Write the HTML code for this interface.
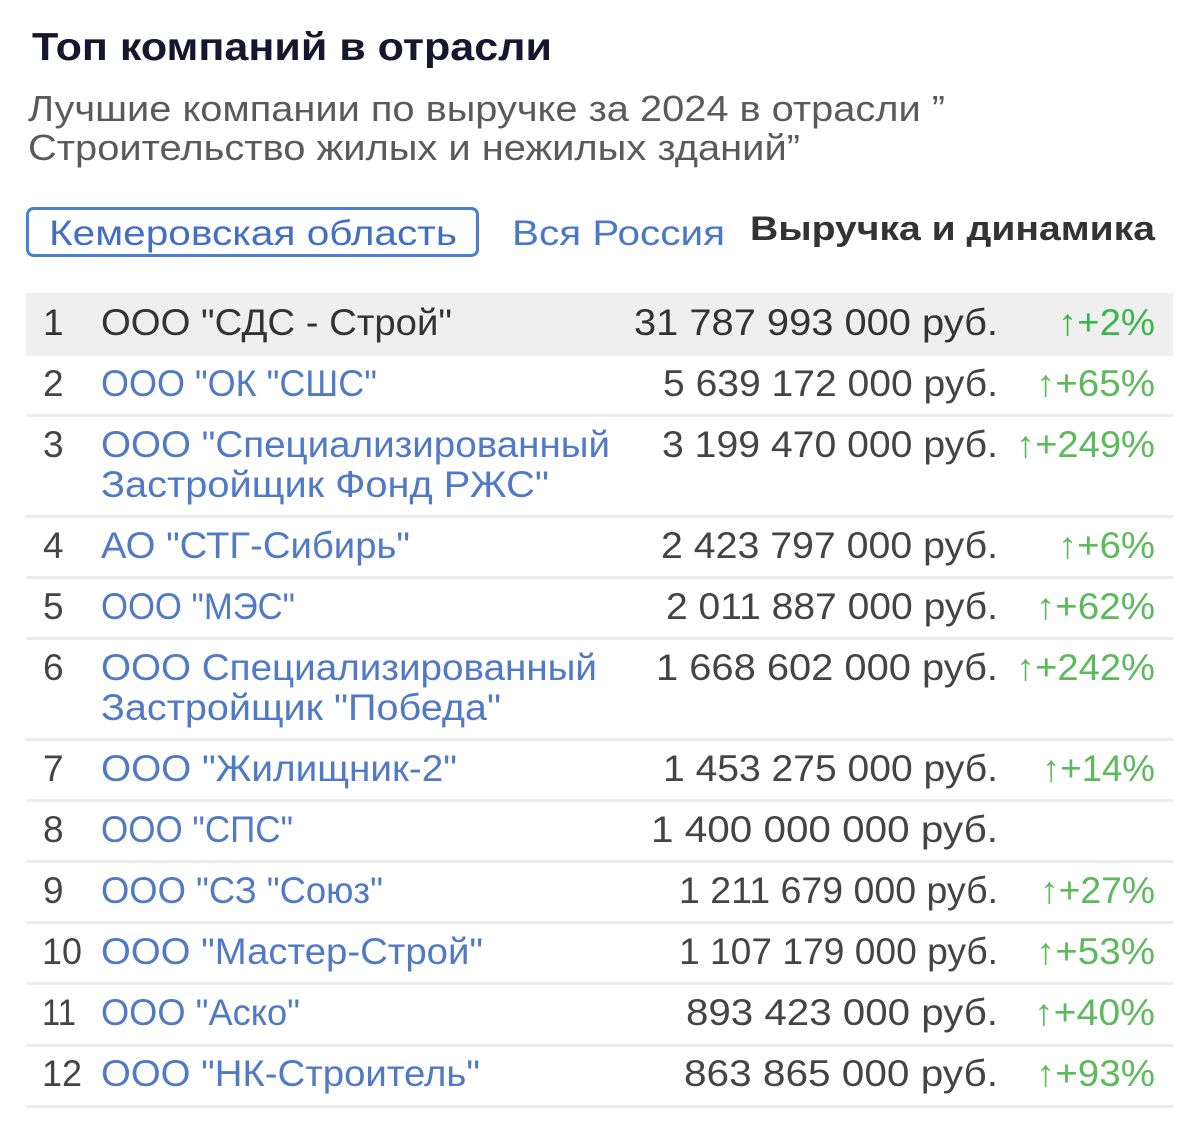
<!DOCTYPE html>
<html><head><meta charset="utf-8">
<style>
html,body{margin:0;padding:0;background:#fff;}
svg{display:block;}
text{font-family:"Liberation Sans","DejaVu Sans",sans-serif;}
.t{font-size:37px;}
.n{fill:#444;}
.l{fill:#5079c6;}
.g{fill:#5cba5c;}
</style></head>
<body>
<svg width="1200" height="1121" viewBox="0 0 1200 1121" xmlns="http://www.w3.org/2000/svg">
<rect width="1200" height="1121" fill="#fff"/>
<text x="32" y="60" font-size="39" font-weight="bold" fill="#16162e" textLength="520" lengthAdjust="spacingAndGlyphs">Топ компаний в отрасли</text>
<text x="28" y="121" font-size="36" fill="#5a5a5a" textLength="917" lengthAdjust="spacingAndGlyphs">Лучшие компании по выручке за 2024 в отрасли ”</text>
<text x="28" y="160" font-size="36" fill="#5a5a5a" textLength="772" lengthAdjust="spacingAndGlyphs">Строительство жилых и нежилых зданий”</text>

<rect x="27.5" y="208.5" width="450" height="47" rx="6" fill="none" stroke="#4b7fd6" stroke-width="3"/>
<text x="49" y="245" font-size="35" fill="#416fc2" textLength="408" lengthAdjust="spacingAndGlyphs">Кемеровская область</text>
<text x="512" y="245" font-size="35" fill="#4a78c8" textLength="213" lengthAdjust="spacingAndGlyphs">Вся Россия</text>
<text x="750" y="240" font-size="34" font-weight="bold" fill="#333" textLength="405" lengthAdjust="spacingAndGlyphs">Выручка и динамика</text>

<rect x="26" y="293" width="1147" height="63" fill="#efefef"/>
<g fill="#ececec">
<rect x="26" y="414" width="1147" height="3"/>
<rect x="26" y="515" width="1147" height="3"/>
<rect x="26" y="576" width="1147" height="3"/>
<rect x="26" y="637" width="1147" height="3"/>
<rect x="26" y="738" width="1147" height="3"/>
<rect x="26" y="799" width="1147" height="3"/>
<rect x="26" y="860" width="1147" height="3"/>
<rect x="26" y="921" width="1147" height="3"/>
<rect x="26" y="982" width="1147" height="3"/>
<rect x="26" y="1044" width="1147" height="3"/>
<rect x="26" y="1105" width="1147" height="3"/>
</g>

<g class="t">
<!-- row 1 -->
<text x="43" y="335" fill="#333">1</text>
<text x="101" y="335" fill="#333" textLength="351" lengthAdjust="spacingAndGlyphs">ООО "СДС - Строй"</text>
<text x="634" y="335" fill="#333" textLength="364" lengthAdjust="spacingAndGlyphs">31 787 993 000 руб.</text>
<text x="1058" y="335" fill="#3cb54a" textLength="97" lengthAdjust="spacingAndGlyphs">↑+2%</text>
<!-- row 2 -->
<text x="43" y="396" class="n">2</text>
<text x="101" y="396" class="l" textLength="276" lengthAdjust="spacingAndGlyphs">ООО "ОК "СШС"</text>
<text x="663" y="396" class="n" textLength="335" lengthAdjust="spacingAndGlyphs">5 639 172 000 руб.</text>
<text x="1036" y="396" class="g" textLength="119" lengthAdjust="spacingAndGlyphs">↑+65%</text>
<!-- row 3 -->
<text x="43" y="457" class="n">3</text>
<text x="101" y="457" class="l" textLength="509" lengthAdjust="spacingAndGlyphs">ООО "Специализированный</text>
<text x="101" y="497" class="l" textLength="448" lengthAdjust="spacingAndGlyphs">Застройщик Фонд РЖС"</text>
<text x="662" y="457" class="n" textLength="336" lengthAdjust="spacingAndGlyphs">3 199 470 000 руб.</text>
<text x="1016" y="457" class="g" textLength="139" lengthAdjust="spacingAndGlyphs">↑+249%</text>
<!-- row 4 -->
<text x="43" y="558" class="n">4</text>
<text x="101" y="558" class="l" textLength="309" lengthAdjust="spacingAndGlyphs">АО "СТГ-Сибирь"</text>
<text x="661" y="558" class="n" textLength="337" lengthAdjust="spacingAndGlyphs">2 423 797 000 руб.</text>
<text x="1058" y="558" class="g" textLength="97" lengthAdjust="spacingAndGlyphs">↑+6%</text>
<!-- row 5 -->
<text x="43" y="619" class="n">5</text>
<text x="101" y="619" class="l" textLength="194" lengthAdjust="spacingAndGlyphs">ООО "МЭС"</text>
<text x="666" y="619" class="n" textLength="332" lengthAdjust="spacingAndGlyphs">2 011 887 000 руб.</text>
<text x="1036" y="619" class="g" textLength="119" lengthAdjust="spacingAndGlyphs">↑+62%</text>
<!-- row 6 -->
<text x="43" y="680" class="n">6</text>
<text x="101" y="680" class="l" textLength="496" lengthAdjust="spacingAndGlyphs">ООО Специализированный</text>
<text x="101" y="720" class="l" textLength="400" lengthAdjust="spacingAndGlyphs">Застройщик "Победа"</text>
<text x="656" y="680" class="n" textLength="342" lengthAdjust="spacingAndGlyphs">1 668 602 000 руб.</text>
<text x="1016" y="680" class="g" textLength="139" lengthAdjust="spacingAndGlyphs">↑+242%</text>
<!-- row 7 -->
<text x="43" y="781" class="n">7</text>
<text x="101" y="781" class="l" textLength="356" lengthAdjust="spacingAndGlyphs">ООО "Жилищник-2"</text>
<text x="663" y="781" class="n" textLength="335" lengthAdjust="spacingAndGlyphs">1 453 275 000 руб.</text>
<text x="1042" y="781" class="g" textLength="113" lengthAdjust="spacingAndGlyphs">↑+14%</text>
<!-- row 8 -->
<text x="43" y="842" class="n">8</text>
<text x="101" y="842" class="l" textLength="192" lengthAdjust="spacingAndGlyphs">ООО "СПС"</text>
<text x="651" y="842" class="n" textLength="347" lengthAdjust="spacingAndGlyphs">1 400 000 000 руб.</text>
<!-- row 9 -->
<text x="43" y="903" class="n">9</text>
<text x="101" y="903" class="l" textLength="282" lengthAdjust="spacingAndGlyphs">ООО "СЗ "Союз"</text>
<text x="679" y="903" class="n" textLength="319" lengthAdjust="spacingAndGlyphs">1 211 679 000 руб.</text>
<text x="1040" y="903" class="g" textLength="115" lengthAdjust="spacingAndGlyphs">↑+27%</text>
<!-- row 10 -->
<text x="42" y="964" class="n" textLength="40" lengthAdjust="spacingAndGlyphs">10</text>
<text x="101" y="964" class="l" textLength="382" lengthAdjust="spacingAndGlyphs">ООО "Мастер-Строй"</text>
<text x="679" y="964" class="n" textLength="319" lengthAdjust="spacingAndGlyphs">1 107 179 000 руб.</text>
<text x="1036" y="964" class="g" textLength="119" lengthAdjust="spacingAndGlyphs">↑+53%</text>
<!-- row 11 -->
<text x="42" y="1025" class="n" textLength="34" lengthAdjust="spacingAndGlyphs">11</text>
<text x="101" y="1025" class="l" textLength="199" lengthAdjust="spacingAndGlyphs">ООО "Аско"</text>
<text x="686" y="1025" class="n" textLength="312" lengthAdjust="spacingAndGlyphs">893 423 000 руб.</text>
<text x="1034" y="1025" class="g" textLength="121" lengthAdjust="spacingAndGlyphs">↑+40%</text>
<!-- row 12 -->
<text x="42" y="1086" class="n" textLength="40" lengthAdjust="spacingAndGlyphs">12</text>
<text x="101" y="1086" class="l" textLength="379" lengthAdjust="spacingAndGlyphs">ООО "НК-Строитель"</text>
<text x="684" y="1086" class="n" textLength="314" lengthAdjust="spacingAndGlyphs">863 865 000 руб.</text>
<text x="1036" y="1086" class="g" textLength="119" lengthAdjust="spacingAndGlyphs">↑+93%</text>
</g>
</svg>
</body></html>
